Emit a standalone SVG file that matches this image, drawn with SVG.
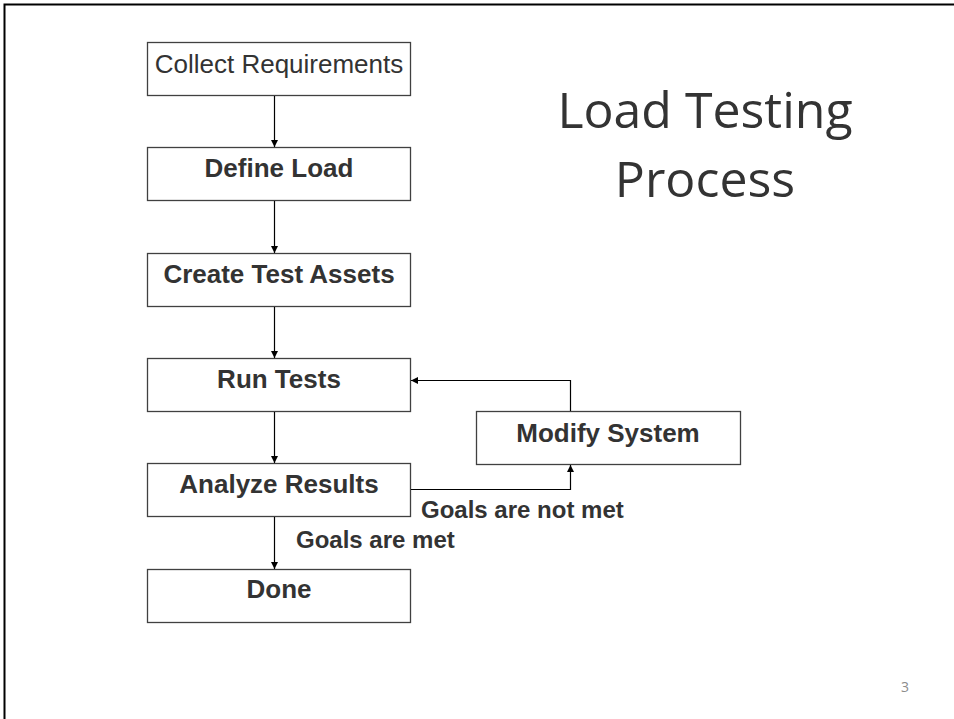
<svg xmlns="http://www.w3.org/2000/svg" width="954" height="719" viewBox="0 0 954 719">
  <style>
    .box { fill: #ffffff; stroke: #404040; stroke-width: 1.3; }
    .lbl { font-family: "Liberation Sans", Arial, sans-serif; font-size: 26px; fill: #333333; text-anchor: middle; }
    .b { font-weight: bold; }
    .note { font-family: "Liberation Sans", Arial, sans-serif; font-size: 24px; font-weight: bold; fill: #333333; }
    .edge { fill: none; stroke: #000000; stroke-width: 1.2; }
    .title { font-family: "Open Sans", Lato, sans-serif; font-size: 50px; fill: #333333; text-anchor: middle; }
  </style>
  <defs>
    <marker id="arrow" viewBox="0 0 10 10" refX="10" refY="5" markerWidth="7" markerHeight="7" markerUnits="userSpaceOnUse" orient="auto">
      <path d="M0,0 L10,5 L0,10 z" fill="#000000"/>
    </marker>
  </defs>

  <rect x="0" y="0" width="954" height="719" fill="#ffffff"/>
  <!-- slide frame -->
  <path d="M4.5,719 V4.5 H954" fill="none" stroke="#000000" stroke-width="2"/>

  <g id="collect">
    <rect class="box" x="147.5" y="42.5" width="263" height="53"/>
    <text class="lbl" x="279" y="73" font-size="26.6">Collect Requirements</text>
  </g>
  <g id="define">
    <rect class="box" x="147.5" y="147.5" width="263" height="53"/>
    <text class="lbl b" x="279" y="177">Define Load</text>
  </g>
  <g id="create">
    <rect class="box" x="147.5" y="253.5" width="263" height="53"/>
    <text class="lbl b" x="279" y="283">Create Test Assets</text>
  </g>
  <g id="run">
    <rect class="box" x="147.5" y="358.5" width="263" height="53"/>
    <text class="lbl b" x="279" y="388">Run Tests</text>
  </g>
  <g id="analyze">
    <rect class="box" x="147.5" y="463.5" width="263" height="53"/>
    <text class="lbl b" x="279" y="493">Analyze Results</text>
  </g>
  <g id="done">
    <rect class="box" x="147.5" y="569.5" width="263" height="53"/>
    <text class="lbl b" x="279" y="598">Done</text>
  </g>
  <g id="modify">
    <rect class="box" x="476.5" y="411.5" width="264" height="53"/>
    <text class="lbl b" x="608" y="442">Modify System</text>
  </g>

  <g id="connectors">
    <line class="edge" x1="274.5" y1="96" x2="274.5" y2="147" marker-end="url(#arrow)"/>
    <line class="edge" x1="274.5" y1="201" x2="274.5" y2="253" marker-end="url(#arrow)"/>
    <line class="edge" x1="274.5" y1="307" x2="274.5" y2="358" marker-end="url(#arrow)"/>
    <line class="edge" x1="274.5" y1="412" x2="274.5" y2="463" marker-end="url(#arrow)"/>
    <line class="edge" x1="274.5" y1="517" x2="274.5" y2="569" marker-end="url(#arrow)"/>
    <polyline class="edge" points="411,489.5 570.5,489.5 570.5,465" marker-end="url(#arrow)"/>
    <polyline class="edge" points="570.5,411 570.5,380.5 411,380.5" marker-end="url(#arrow)"/>
    <text class="note" x="421" y="518">Goals are not met</text>
    <text class="note" x="296" y="548">Goals are met</text>
  </g>

  <text class="title" x="705" y="128">Load Testing</text>
  <text class="title" x="705" y="197">Process</text>

  <text x="905" y="692" font-family="'Open Sans', sans-serif" font-size="14" fill="#8c8c8c" text-anchor="middle">3</text>
</svg>
